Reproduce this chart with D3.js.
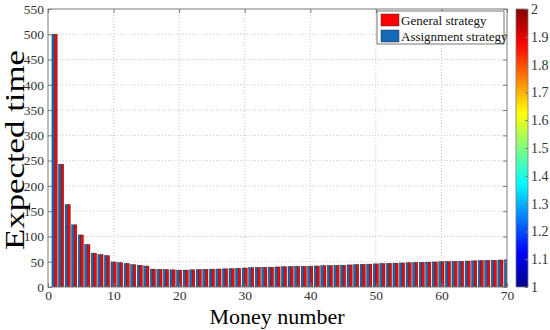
<!DOCTYPE html>
<html><head><meta charset="utf-8">
<script src="https://cdn.jsdelivr.net/npm/d3@7"></script>
<style>body{margin:0;background:#fff}svg{display:block}svg text{font-family:"Liberation Serif","Times New Roman",serif !important}</style>
</head><body><svg id="c" width="550" height="330"></svg>
<script>
const moneyNumbers = d3.range(1, 71);
const generalStrategy = [500,243,163,123,103,84,67,64,62,49.5,48,46.5,44,43,41.5,35.5,35,34.5,34,33.5,33.5,34,34.5,35,35.3,35.6,36,36.3,37,37.6,38.2,38.8,39,39.3,39.7,40,40.5,40.8,41,41.3,41.6,42,42.3,42.8,43.2,43.7,44.2,44.8,45.3,45.8,46.3,46.8,47.2,47.6,48,48.4,48.8,49.2,49.6,50,50.3,50.7,51,51.4,51.8,52.2,52.6,53,53.4,53.8];
const assignmentStrategy = [500,243,163,123,103,84,67,64,62,49.5,48,46.5,44,43,41.5,35.5,35,34.5,34,33.5,33.5,34,34.5,35,35.3,35.6,36,36.3,37,37.6,38.2,38.8,39,39.3,39.7,40,40.5,40.8,41,41.3,41.6,42,42.3,42.8,43.2,43.7,44.2,44.8,45.3,45.8,46.3,46.8,47.2,47.6,48,48.4,48.8,49.2,49.6,50,50.3,50.7,51,51.4,51.8,52.2,52.6,53,53.4,53.8];
const yTicks = d3.range(0, 551, 50);
const xTicks = d3.range(0, 71, 10);
const cbTicks = [1,1.1,1.2,1.3,1.4,1.5,1.6,1.7,1.8,1.9,2];
const seriesNames = ["General strategy", "Assignment strategy"];
const seriesColors = ["#ff0000", "#1569b8"];

const svg = d3.select("#c");
const L = 48, R = 507, T = 9, B = 287;
const x = d3.scaleLinear().domain([0, 70]).range([L, R]);
const y = d3.scaleLinear().domain([0, 550]).range([B, T]);
const axisCol = "#7a7a7a", txtCol = "#333";

// grid
const g = svg.append("g");
g.selectAll(".gx").data(xTicks.slice(1, -1)).join("line")
  .attr("x1", d => x(d)).attr("x2", d => x(d)).attr("y1", T).attr("y2", B)
  .attr("stroke", "#c8c8c8").attr("stroke-width", 1).attr("stroke-dasharray", "1,2");
g.selectAll(".gy").data(yTicks.slice(1, -1)).join("line")
  .attr("y1", d => y(d)).attr("y2", d => y(d)).attr("x1", L).attr("x2", R)
  .attr("stroke", "#c8c8c8").attr("stroke-width", 1).attr("stroke-dasharray", "1,2");

// bars
svg.append("clipPath").attr("id", "clip").append("rect").attr("x", L).attr("y", T).attr("width", R - L).attr("height", B - T);
const bw = 0.4;
const bars = svg.append("g").attr("clip-path", "url(#clip)");
bars.selectAll(".b").data(moneyNumbers).join("rect")
  .attr("x", (d) => x(d - bw)).attr("width", x(bw) - x(0))
  .attr("y", (d, i) => y(assignmentStrategy[i])).attr("height", (d, i) => B - y(assignmentStrategy[i]))
  .attr("fill", seriesColors[1]).attr("stroke", "#222").attr("stroke-width", 0.4);
bars.selectAll(".r").data(moneyNumbers).join("rect")
  .attr("x", (d) => x(d)).attr("width", x(bw) - x(0))
  .attr("y", (d, i) => y(generalStrategy[i])).attr("height", (d, i) => B - y(generalStrategy[i]))
  .attr("fill", seriesColors[0]).attr("stroke", "#222").attr("stroke-width", 0.4);

// frame
svg.append("rect").attr("x", L).attr("y", T).attr("width", R - L).attr("height", B - T)
  .attr("fill", "none").attr("stroke", axisCol).attr("stroke-width", 1);

// axes
const ya = d3.axisLeft(y).tickValues(yTicks).tickSize(-4).tickPadding(4);
const yg = svg.append("g").attr("transform", `translate(${L},0)`).call(ya);
const xa = d3.axisBottom(x).tickValues(xTicks).tickSize(-4).tickPadding(3);
const xg = svg.append("g").attr("transform", `translate(0,${B})`).call(xa);
const yr = svg.append("g").attr("transform", `translate(${R},0)`).call(d3.axisRight(y).tickValues(yTicks).tickSize(-4).tickFormat(""));
const xt = svg.append("g").attr("transform", `translate(0,${T})`).call(d3.axisTop(x).tickValues(xTicks).tickSize(-4).tickFormat(""));
[yg, xg, yr, xt].forEach(a => {
  a.select(".domain").remove();
  a.selectAll("line").attr("stroke", axisCol);
  a.selectAll("text").attr("fill", txtCol).style("font-size", "13.5px");
});

// axis labels
svg.append("text").attr("x", 277).attr("y", 324).attr("text-anchor", "middle")
  .style("font-size", "22px").attr("fill", "#000").text("Money number");
svg.append("text").attr("transform", `translate(24,${(T + B) / 2 + 2}) rotate(-90)`).attr("text-anchor", "middle")
  .attr("textLength", 200).attr("lengthAdjust", "spacingAndGlyphs")
  .style("font-size", "27px").attr("fill", "#000").text("Expected time");

// legend
const lg = svg.append("g");
lg.append("rect").attr("x", 377).attr("y", 11).attr("width", 127).attr("height", 33)
  .attr("fill", "#fff").attr("stroke", "#555").attr("stroke-width", 0.8);
seriesNames.forEach((n, i) => {
  lg.append("rect").attr("x", 381).attr("y", 14 + i * 16).attr("width", 18).attr("height", 12)
    .attr("fill", seriesColors[i]).attr("stroke", "#333").attr("stroke-width", 0.5);
  lg.append("text").attr("x", 401).attr("y", 24.5 + i * 16).style("font-size", "13px").attr("fill", "#111").text(n);
});

// colorbar (jet)
const jet = [[0, "#00008f"], [0.125, "#0000ff"], [0.375, "#00ffff"], [0.625, "#ffff00"], [0.875, "#ff0000"], [1, "#800000"]];
const defs = svg.append("defs");
const grad = defs.append("linearGradient").attr("id", "jet").attr("x1", 0).attr("x2", 0).attr("y1", 1).attr("y2", 0);
jet.forEach(s => grad.append("stop").attr("offset", s[0]).attr("stop-color", s[1]));
const cbX = 516, cbW = 12;
const cy = d3.scaleLinear().domain([1, 2]).range([B, T]);
svg.append("rect").attr("x", cbX).attr("y", T).attr("width", cbW).attr("height", B - T)
  .attr("fill", "url(#jet)").attr("stroke", axisCol).attr("stroke-width", 0.8);
const cg = svg.append("g").attr("transform", `translate(${cbX + cbW},0)`)
  .call(d3.axisRight(cy).tickValues(cbTicks).tickSize(-3).tickPadding(3).tickFormat(d3.format("~g")));
cg.select(".domain").remove();
cg.selectAll("line").attr("stroke", axisCol);
cg.selectAll("text").attr("fill", txtCol).style("font-size", "14px");
</script></body></html>
